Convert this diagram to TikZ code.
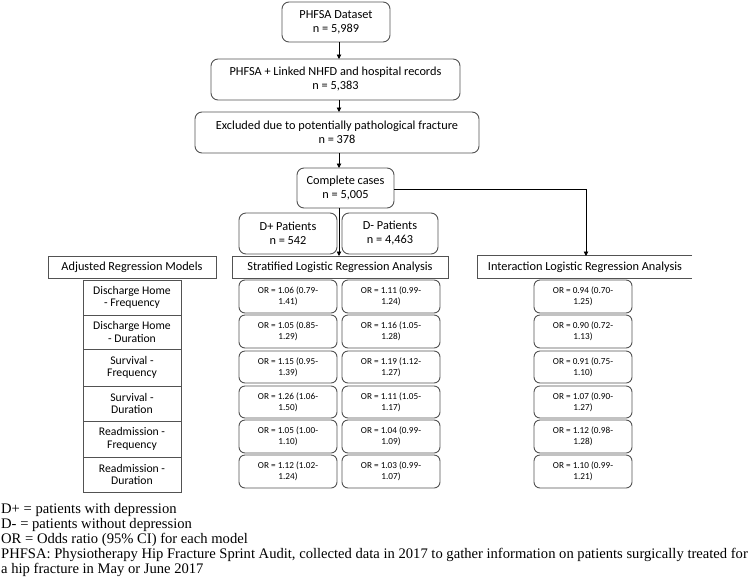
\documentclass[tikz,border=0pt]{standalone}
\usepackage{fontspec}
\setmainfont{Carlito}
\newfontfamily\tnr{Liberation Serif}
\usetikzlibrary{arrows.meta}
\tikzset{
  boxline/.style={draw=black!68, line width=0.9pt},
  flowbox/.style={boxline, rounded corners=7pt, inner sep=0pt, align=center, font=\fontsize{12.3}{14}\selectfont},
  headbox/.style={boxline, inner sep=0pt, align=center, font=\fontsize{12.3}{14}\selectfont},
  cellbox/.style={boxline, inner sep=0pt, align=center, font=\fontsize{11.7}{12.5}\selectfont},
  orbox/.style={boxline, rounded corners=6pt, inner sep=0pt, align=center, font=\fontsize{9.2}{11}\selectfont},
  arr/.style={draw=black, line width=0.9pt, -{Triangle[length=4.5pt,width=4.5pt]}},
  foot/.style={anchor=base west, inner sep=0pt, font=\tnr\fontsize{14.6}{15}\selectfont}
}
\newcommand\bx[7]{\node[#6, minimum width={#4-#2}, minimum height={#5-#3}] (#1) at ({(#2+#4)/2},{(#3+#5)/2}) {#7};}
\begin{document}
\begin{tikzpicture}[x=1pt,y=-1pt]
\useasboundingbox (0,0) rectangle (749,584);
% flow
\bx{ds}{282}{2}{390}{42}{flowbox}{PHFSA Dataset\\n = 5,989}
\bx{lk}{211}{59}{460}{100}{flowbox}{PHFSA + Linked NHFD and hospital records\\n = 5,383}
\bx{ex}{195}{112}{479}{153}{flowbox}{Excluded due to potentially pathological fracture\\n = 378}
\bx{cc}{297}{168}{394}{208}{flowbox}{Complete cases\\n = 5,005}
\bx{dp}{239}{213}{337}{254}{flowbox}{D+ Patients\\n = 542}
\bx{dm}{342}{213}{438}{254}{flowbox}{D- Patients\\n = 4,463}
% headers
\bx{adj}{48}{256}{216}{278}{headbox}{Adjusted Regression Models}
\bx{str}{232}{256}{448}{278}{headbox}{Stratified Logistic Regression Analysis}
\node[inner sep=0pt, minimum width=214, minimum height=22, font=\fontsize{12.3}{14}\selectfont] (int) at (585,267) {Interaction Logistic Regression Analysis};
\draw[boxline] (int.north east) -- (int.north west) -- (int.south west) -- (int.south east);
% arrows
\coordinate (a1) at (339,42);
\coordinate (a2) at (339,59);
\coordinate (a3) at (339,100);
\coordinate (a4) at (339,112);
\coordinate (a5) at (339,153);
\coordinate (a6) at (339,168);
\coordinate (a7) at (339,208);
\coordinate (a8) at (339,256);
\draw[arr] (a1) -- (a2);
\draw[arr] (a3) -- (a4);
\draw[arr] (a5) -- (a6);
\draw[arr] (a7) -- (a8);
\coordinate (b1) at (394,189);
\coordinate (b2) at (586,189);
\coordinate (b3) at (586,256);
\draw[arr] (b1) -- (b2) -- (b3);
% table
\bx{t1}{83}{280}{181}{315}{cellbox}{Discharge Home\\- Frequency}
\bx{t2}{83}{315}{181}{349}{cellbox}{Discharge Home\\- Duration}
\bx{t3}{83}{349}{181}{386}{cellbox}{Survival -\\Frequency}
\bx{t4}{83}{386}{181}{421}{cellbox}{Survival -\\Duration}
\bx{t5}{83}{421}{181}{457}{cellbox}{Readmission -\\Frequency}
\bx{t6}{83}{457}{181}{492}{cellbox}{Readmission -\\Duration}
% OR boxes D+
\bx{p1}{239}{280}{337}{313}{orbox}{OR = 1.06 (0.79-\\1.41)}
\bx{p2}{239}{315}{337}{348}{orbox}{OR = 1.05 (0.85-\\1.29)}
\bx{p3}{239}{351}{337}{383}{orbox}{OR = 1.15 (0.95-\\1.39)}
\bx{p4}{239}{386}{337}{418}{orbox}{OR = 1.26 (1.06-\\1.50)}
\bx{p5}{239}{420}{337}{453}{orbox}{OR = 1.05 (1.00-\\1.10)}
\bx{p6}{239}{455}{337}{488}{orbox}{OR = 1.12 (1.02-\\1.24)}
% OR boxes D-
\bx{m1}{342}{280}{440}{313}{orbox}{OR = 1.11 (0.99-\\1.24)}
\bx{m2}{342}{315}{440}{348}{orbox}{OR = 1.16 (1.05-\\1.28)}
\bx{m3}{342}{351}{440}{383}{orbox}{OR = 1.19 (1.12-\\1.27)}
\bx{m4}{342}{386}{440}{418}{orbox}{OR = 1.11 (1.05-\\1.17)}
\bx{m5}{342}{420}{440}{453}{orbox}{OR = 1.04 (0.99-\\1.09)}
\bx{m6}{342}{455}{440}{488}{orbox}{OR = 1.03 (0.99-\\1.07)}
% OR boxes interaction
\bx{i1}{534}{280}{632}{313}{orbox}{OR = 0.94 (0.70-\\1.25)}
\bx{i2}{534}{315}{632}{348}{orbox}{OR = 0.90 (0.72-\\1.13)}
\bx{i3}{534}{351}{632}{383}{orbox}{OR = 0.91 (0.75-\\1.10)}
\bx{i4}{534}{386}{632}{418}{orbox}{OR = 1.07 (0.90-\\1.27)}
\bx{i5}{534}{420}{632}{453}{orbox}{OR = 1.12 (0.98-\\1.28)}
\bx{i6}{534}{455}{632}{488}{orbox}{OR = 1.10 (0.99-\\1.21)}
% footnotes
\node[foot] (f1) at (1,513) {D+ = patients with depression};
\node[foot] (f2) at (1,528) {D- = patients without depression};
\node[foot] (f3) at (1,543) {OR = Odds ratio (95\% CI) for each model};
\node[foot] (f4) at (1,558) {PHFSA: Physiotherapy Hip Fracture Sprint Audit, collected data in 2017 to gather information on patients surgically treated for};
\node[foot] (f5) at (1,573) {a hip fracture in May or June 2017};
\end{tikzpicture}
\end{document}
